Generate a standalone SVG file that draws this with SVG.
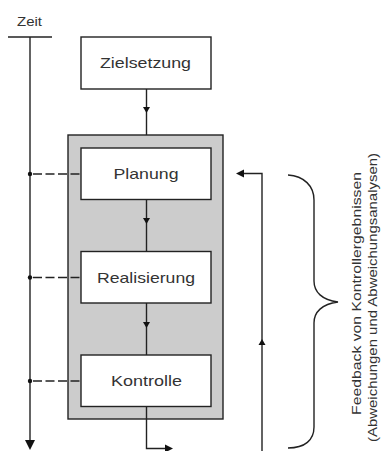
<svg xmlns="http://www.w3.org/2000/svg" xmlns:xlink="http://www.w3.org/1999/xlink" width="382" height="451" viewBox="0 0 382 451">
<style>
  .box { fill: #ffffff; stroke: #222; stroke-width: 1.4; }
  .frame { fill: #cccccc; stroke: #222; stroke-width: 1.4; }
  .ln { fill: none; stroke: #222; stroke-width: 1.4; }
  .dash { fill: none; stroke: #222; stroke-width: 1.4; stroke-dasharray: 9 3.5; }
  .lbl { font-family: "Liberation Sans", Arial, sans-serif; font-size: 15px; fill: #333; }
  .small { font-family: "Liberation Sans", Arial, sans-serif; font-size: 12px; fill: #333; }
  .rot { font-family: "Liberation Sans", Arial, sans-serif; font-size: 13px; fill: #333; }
  .head { fill: #111; }
</style>
<defs>
  <path id="down" d="M-3.5,-6 L3.5,-6 L0,0 Z"/>
  <path id="up" d="M-3.5,6 L3.5,6 L0,0 Z"/>
  <path id="left" d="M0,0 L8,-4 L8,4 Z"/>
  <path id="right" d="M0,0 L-8,-4 L-8,4 Z"/>
</defs>

<g id="time-axis">
  <text class="small" x="17" y="26" textLength="25" lengthAdjust="spacingAndGlyphs">Zeit</text>
  <line class="ln" x1="8" y1="37" x2="52" y2="37"/>
  <line class="ln" x1="30" y1="37" x2="30" y2="442"/>
  <path class="head" d="M25,440 L35,440 L30,450 Z"/>
</g>

<g id="phase-frame">
  <rect class="frame" x="68" y="135" width="155" height="284"/>
</g>

<g id="zielsetzung">
  <rect class="box" x="81" y="37" width="130" height="52"/>
  <text class="lbl" x="100" y="68" textLength="91" lengthAdjust="spacingAndGlyphs">Zielsetzung</text>
</g>
<g id="planung">
  <rect class="box" x="81" y="148" width="130" height="51.5"/>
  <text class="lbl" x="113.5" y="179" textLength="65" lengthAdjust="spacingAndGlyphs">Planung</text>
</g>
<g id="realisierung">
  <rect class="box" x="81" y="251.5" width="130" height="51.5"/>
  <text class="lbl" x="97" y="282.5" textLength="98" lengthAdjust="spacingAndGlyphs">Realisierung</text>
</g>
<g id="kontrolle">
  <rect class="box" x="81" y="355" width="130" height="51.5"/>
  <text class="lbl" x="111" y="386" textLength="71" lengthAdjust="spacingAndGlyphs">Kontrolle</text>
</g>

<g id="connectors">
  <line class="ln" x1="146.5" y1="89" x2="146.5" y2="135"/>
  <use xlink:href="#down" class="head" x="146.5" y="113"/>
  <line class="ln" x1="146.5" y1="199.5" x2="146.5" y2="251.5"/>
  <use xlink:href="#down" class="head" x="146.5" y="224"/>
  <line class="ln" x1="146.5" y1="303" x2="146.5" y2="355"/>
  <use xlink:href="#down" class="head" x="146.5" y="328"/>
  <polyline class="ln" points="146.5,406.5 146.5,448.5 166,448.5"/>
  <use xlink:href="#right" class="head" x="173" y="448.5"/>

  <polyline class="ln" points="262,451 262,173.5 244,173.5"/>
  <use xlink:href="#left" class="head" x="236" y="173.5"/>
  <use xlink:href="#up" class="head" x="262" y="339"/>

  <line class="dash" x1="33" y1="174" x2="81" y2="174"/>
  <line class="dash" x1="33" y1="277.5" x2="81" y2="277.5"/>
  <line class="dash" x1="33" y1="381" x2="81" y2="381"/>
  <circle class="head" cx="30" cy="174" r="2.2"/>
  <circle class="head" cx="30" cy="277.5" r="2.2"/>
  <circle class="head" cx="30" cy="381" r="2.2"/>
</g>

<g id="feedback">
  <path class="ln" d="M288,175 C304,176 314,186 314,200 L314,281 C314,292 322,300 338,302 C322,304 314,312 314,323 L314,427 C314,440 305,448 288,448"/>
  <text class="rot" transform="translate(360.5,293.5) rotate(-90)" text-anchor="middle" textLength="243" lengthAdjust="spacingAndGlyphs">Feedback von Kontrollergebnissen</text>
  <text class="rot" transform="translate(377,297.5) rotate(-90)" text-anchor="middle" textLength="289" lengthAdjust="spacingAndGlyphs">(Abweichungen und Abweichungsanalysen)</text>
</g>
</svg>
